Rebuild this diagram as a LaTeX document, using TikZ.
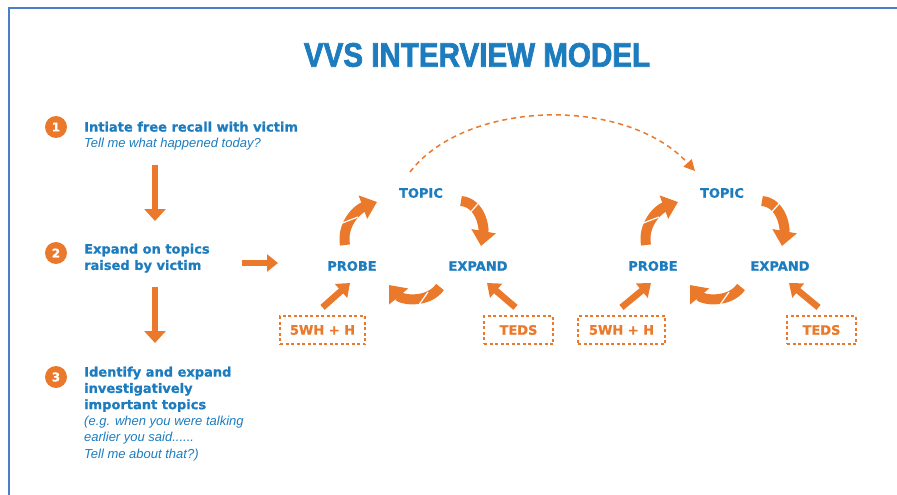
\documentclass[tikz,border=0pt]{standalone}
\usepackage{fontspec}
\setmainfont{Liberation Sans}
\newfontfamily\heavyfont{DejaVu Sans}[BoldFeatures={FakeBold=0.9}]
\newfontfamily\titlefont{Liberation Sans}[FakeStretch=0.87,BoldFeatures={FakeBold=2}]
\usetikzlibrary{arrows.meta,calc}

\definecolor{vvsblue}{RGB}{28,124,190}
\definecolor{vvsorange}{RGB}{234,121,43}
\definecolor{framecol}{RGB}{74,126,198}

\tikzset{
  stepnum/.style={circle, fill=vvsorange, minimum size=22pt, inner sep=0pt,
    text=white, font=\heavyfont\bfseries\fontsize{12}{12}\selectfont},
  item/.style={anchor=north west, align=left, inner sep=0pt, text=vvsblue,
    font=\heavyfont\bfseries\fontsize{13}{16.3}\selectfont},
  cyclbl/.style={inner sep=1pt, text=vvsblue,
    font=\heavyfont\bfseries\fontsize{13}{13}\selectfont},
  toolbox/.style={draw=vvsorange, dash pattern=on 3pt off 2.5pt, line width=1.2pt,
    minimum height=28pt, inner sep=2pt, text=vvsorange,
    font=\heavyfont\bfseries\fontsize{13}{13}\selectfont},
  flowarrow/.style={draw=vvsorange, line width=6pt,
    -{Triangle[width=21pt,length=12pt]}},
  ribbon/.style={draw=vvsorange, line width=10pt,
    -{Triangle[width=24pt,length=15pt]}},
  crease/.style={draw=white, line width=1.2pt},
  feed/.style={draw=vvsorange, line width=6.5pt,
    -{Triangle[width=18pt,length=12pt]}},
  jump/.style={draw=vvsorange, line width=1.5pt, dash pattern=on 5pt off 4pt,
    -{Triangle[width=11pt,length=11pt]}}
}

\begin{document}
\begin{tikzpicture}[x=1pt,y=-1pt]
\useasboundingbox (0,0) rectangle (897,495);

% frame lines on the top and left edges
\draw[framecol, line width=2pt] (9,495) -- (9,8) -- (897,8);

% heading
\node[text=vvsblue, font=\titlefont\bfseries\fontsize{34}{34}\selectfont]
  (title) at (477,55) {VVS INTERVIEW MODEL};

% numbered steps
\node[stepnum] (n1) at (56,127) {1};
\node[item] (t1) at (84,121.5) {Intiate free recall with victim\\
  {\normalfont\itshape Tell me what happened today?}};

\node[stepnum] (n2) at (56,253) {2};
\node[item] (t2) at (84,243.5) {Expand on topics\\raised by victim};

\node[stepnum] (n3) at (56,377) {3};
\node[item] (t3) at (84,366.5) {Identify and expand\\investigatively\\important topics\\
  {\normalfont\itshape (e.g. when you were talking}\\
  {\normalfont\itshape earlier you said......}\\
  {\normalfont\itshape Tell me about that?)}};

% arrows between the steps
\coordinate (d1a) at (155,165);
\coordinate (d1b) at (155,221);
\coordinate (d2a) at (155,287);
\coordinate (d2b) at (155,343);
\coordinate (r2a) at (242,263);
\coordinate (r2b) at (278,263);
\draw[flowarrow] (d1a) -- (d1b);
\draw[flowarrow] (d2a) -- (d2b);
\draw[draw=vvsorange, line width=6pt, -{Triangle[width=17pt,length=11pt]}] (r2a) -- (r2b);

% first cycle
\node[cyclbl] (topicA) at (421,193) {TOPIC};
\node[cyclbl] (probeA) at (352,266) {PROBE};
\node[cyclbl] (expandA) at (478,266) {EXPAND};
\node[toolbox, minimum width=85pt] (whA) at (322.5,330) {5WH + H};
\node[toolbox, minimum width=69pt] (tedsA) at (518.5,330) {TEDS};

% second cycle
\node[cyclbl] (topicB) at (722,193) {TOPIC};
\node[cyclbl] (probeB) at (653,266) {PROBE};
\node[cyclbl] (expandB) at (780,266) {EXPAND};
\node[toolbox, minimum width=87pt] (whB) at (621.5,330) {5WH + H};
\node[toolbox, minimum width=69pt] (tedsB) at (821.5,330) {TEDS};

% curved ribbon arrows of each cycle, with a folded crease on each
\foreach \s in {A,B} {
  \draw[ribbon] ($(topic\s)+(-76,52)$) to[out=100,in=200] ($(topic\s)+(-44,9)$);
  \draw[crease] ($(topic\s)+(-84,32)$) -- ($(topic\s)+(-63,24)$);
  \draw[ribbon] ($(topic\s)+(40,8)$) to[out=-5,in=80] ($(topic\s)+(60,53)$);
  \draw[crease] ($(topic\s)+(47,22)$) -- ($(topic\s)+(63,4)$);
  \draw[ribbon] ($(topic\s)+(19,94)$) to[out=-125,in=-50] ($(topic\s)+(-32,92)$);
  \draw[crease] ($(topic\s)+(7,99)$) -- ($(topic\s)+(-7,119)$);
  \draw[feed] ($(wh\s.north)+(0,-8)$) -- ($(probe\s)+(-2,17)$);
  \draw[feed] ($(teds\s.north)+(-3,-8)$) -- ($(expand\s)+(9,17)$);
}

% dashed jump from the first topic to the next
\draw[jump] ($(topicA)+(-11,-21)$) .. controls (465,100) and (625,95) .. ($(topicB)+(-27,-22)$);

\end{tikzpicture}
\end{document}
